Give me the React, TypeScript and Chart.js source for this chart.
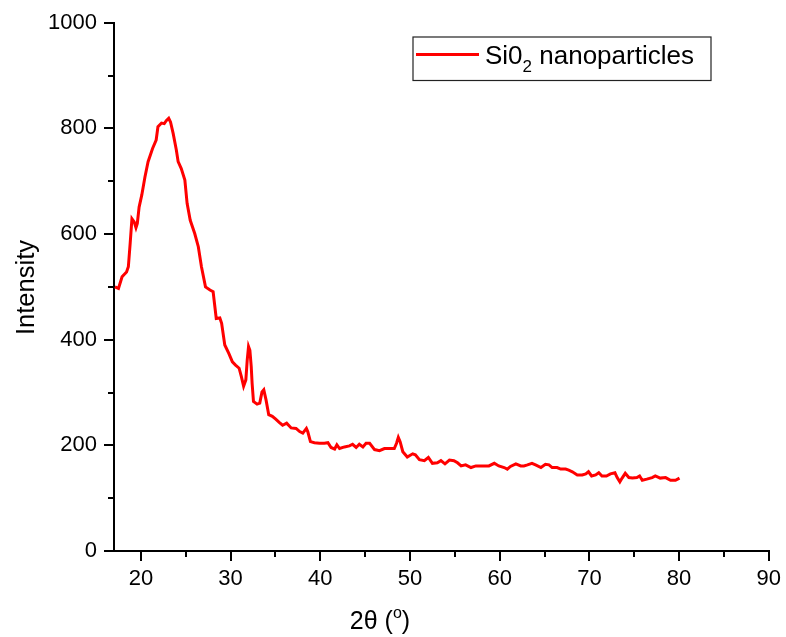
import { useEffect, useRef } from "react";
import { Chart, registerables } from "chart.js";

Chart.register(...registerables);

// XRD pattern of the SiO2 nanoparticle sample
const twoTheta = [
  17.1, 17.5, 17.9, 18.4, 18.6, 18.8, 19.0, 19.25, 19.45, 19.6, 19.8, 20.1, 20.45, 20.8, 21.3, 21.7,
  21.9, 22.3, 22.6, 22.85, 23.1, 23.3, 23.6, 23.95, 24.15, 24.5, 24.9, 25.15, 25.5, 26.0, 26.4, 26.75,
  27.2, 27.7, 28.05, 28.2, 28.4, 28.8, 29.0, 29.35, 29.8, 30.2, 30.55, 30.95, 31.2, 31.45, 31.7, 31.85,
  32.0, 32.15, 32.3, 32.4, 32.55, 32.95, 33.25, 33.5, 33.7, 33.95, 34.25, 34.65, 35.0, 35.45, 35.8, 36.25,
  36.75, 37.3, 37.7, 38.05, 38.45, 38.6, 38.9, 39.35, 39.9, 40.45, 40.85, 41.2, 41.6, 41.85, 42.15, 42.7,
  43.25, 43.6, 44.0, 44.35, 44.75, 45.1, 45.5, 46.05, 46.6, 47.15, 47.7, 48.25, 48.5, 48.7, 48.9, 49.2,
  49.7, 50.3, 50.6, 51.05, 51.6, 52.05, 52.5, 53.05, 53.45, 53.9, 54.4, 54.9, 55.3, 55.7, 56.2, 56.8,
  57.35, 58.1, 58.8, 59.4, 59.9, 60.5, 60.85, 61.2, 61.8, 62.35, 62.7, 63.1, 63.6, 64.0, 64.6, 65.1,
  65.5, 65.85, 66.4, 66.8, 67.35, 67.7, 68.1, 68.65, 69.2, 69.6, 69.9, 70.25, 70.7, 71.05, 71.4, 71.9,
  72.35, 72.85, 73.1, 73.4, 73.65, 74.0, 74.4, 74.8, 75.3, 75.6, 75.9, 76.4, 77.0, 77.35, 77.9, 78.5,
  79.05, 79.6, 80.05,
];

const intensity = [
  500, 497, 519, 528, 538, 582, 629, 623, 612, 620, 651, 674, 708, 737, 762, 778,
  803, 810, 809, 815, 819, 812, 790, 759, 737, 724, 702, 658, 626, 601, 576, 538,
  500, 494, 491, 469, 440, 441, 431, 390, 374, 358, 352, 346, 330, 312, 324, 361,
  387, 380, 349, 317, 283, 278, 280, 301, 305, 286, 258, 255, 250, 243, 238, 242,
  233, 232, 226, 223, 232, 226, 207, 205, 204, 204, 205, 196, 193, 201, 194, 197,
  199, 202, 196, 202, 197, 204, 204, 192, 190, 194, 194, 194, 204, 215, 207, 188,
  178, 184, 182, 173, 171, 177, 166, 167, 171, 165, 172, 171, 167, 161, 163, 158,
  161, 161, 161, 166, 161, 158, 155, 160, 165, 161, 161, 163, 166, 163, 158, 164,
  163, 158, 158, 155, 155, 153, 150, 144, 144, 146, 150, 142, 144, 148, 142, 142,
  146, 148, 139, 131, 138, 147, 139, 138, 139, 142, 134, 136, 139, 142, 138, 139,
  134, 134, 138,
];

const xTicks = [20, 30, 40, 50, 60, 70, 80, 90];
const xMinorTicks = [25, 35, 45, 55, 65, 75, 85];
const yTicks = [0, 200, 400, 600, 800, 1000];
const yMinorTicks = [100, 300, 500, 700, 900];

const seriesName = "Si0";
const seriesSub = "2";
const seriesRest = " nanoparticles";
const yTitle = "Intensity";
const xTitleMain = "2θ (";
const xTitleSup = "o";
const xTitleEnd = ")";

const FONT = '"Liberation Sans", Arial, Helvetica, sans-serif';
const RED = "#ff0000";

// Short ticks halfway between the labelled ones
const minorTicksPlugin = {
  id: "minorTicks",
  afterDraw(chart: any) {
    const { ctx, scales, chartArea } = chart;
    ctx.save();
    ctx.strokeStyle = "#000";
    ctx.lineWidth = 2;
    ctx.beginPath();
    xMinorTicks.forEach((v) => {
      const px = Math.round(scales.x.getPixelForValue(v));
      ctx.moveTo(px, chartArea.bottom);
      ctx.lineTo(px, chartArea.bottom + 6);
    });
    yMinorTicks.forEach((v) => {
      const py = Math.round(scales.y.getPixelForValue(v));
      ctx.moveTo(chartArea.left - 6, py);
      ctx.lineTo(chartArea.left, py);
    });
    ctx.stroke();
    ctx.restore();
  },
};

// Axis titles (x title carries a superscript degree mark)
const axisTitlesPlugin = {
  id: "axisTitles",
  afterDraw(chart: any) {
    const { ctx } = chart;
    ctx.save();
    ctx.fillStyle = "#000";
    ctx.textBaseline = "alphabetic";

    // y title, rotated
    ctx.font = `25.5px ${FONT}`;
    ctx.translate(33.5, 287.5);
    ctx.rotate(-Math.PI / 2);
    ctx.textAlign = "center";
    ctx.fillText(yTitle, 0, 0);
    ctx.setTransform(1, 0, 0, 1, 0, 0);

    // x title
    ctx.textAlign = "left";
    const mainFont = `25px ${FONT}`;
    const supFont = `16px ${FONT}`;
    ctx.font = mainFont;
    const w1 = ctx.measureText(xTitleMain).width;
    const w3 = ctx.measureText(xTitleEnd).width;
    ctx.font = supFont;
    const w2 = ctx.measureText(xTitleSup).width;
    const total = w1 + w2 + w3;
    let x = 380 - total / 2;
    const base = 628.5;
    ctx.font = mainFont;
    ctx.fillText(xTitleMain, x, base);
    x += w1;
    ctx.font = supFont;
    ctx.fillText(xTitleSup, x, base - 10.5);
    x += w2;
    ctx.font = mainFont;
    ctx.fillText(xTitleEnd, x, base);
    ctx.restore();
  },
};

// Boxed legend inside the plot area
const legendBoxPlugin = {
  id: "legendBox",
  afterDraw(chart: any) {
    const { ctx } = chart;
    ctx.save();
    ctx.strokeStyle = "#222";
    ctx.lineWidth = 1.2;
    ctx.strokeRect(413, 37, 298, 43.5);

    ctx.strokeStyle = RED;
    ctx.lineWidth = 3;
    ctx.beginPath();
    ctx.moveTo(416, 54.5);
    ctx.lineTo(479, 54.5);
    ctx.stroke();

    ctx.fillStyle = "#000";
    ctx.textAlign = "left";
    ctx.textBaseline = "alphabetic";
    let x = 485;
    const base = 63.5;
    ctx.font = `26px ${FONT}`;
    ctx.fillText(seriesName, x, base);
    x += ctx.measureText(seriesName).width;
    ctx.font = `17px ${FONT}`;
    ctx.fillText(seriesSub, x, base + 8);
    x += ctx.measureText(seriesSub).width;
    ctx.font = `26px ${FONT}`;
    ctx.fillText(seriesRest, x, base);
    ctx.restore();
  },
};

export default function App() {
  const canvasRef = useRef<HTMLCanvasElement | null>(null);

  useEffect(() => {
    const canvas = canvasRef.current;
    if (!canvas) return;

    const points = twoTheta.map((t, i) => ({ x: t, y: intensity[i] }));

    const chart = new Chart(canvas, {
      type: "line",
      data: {
        datasets: [
          {
            label: seriesName + seriesSub + seriesRest,
            data: points,
            borderColor: RED,
            backgroundColor: RED,
            borderWidth: 3,
            pointRadius: 0,
            tension: 0,
            fill: false,
          },
        ],
      },
      options: {
        responsive: false,
        animation: false,
        devicePixelRatio: 1,
        layout: { padding: { left: 0, right: 16.7, top: 22.7, bottom: 0 } },
        plugins: {
          legend: { display: false },
          tooltip: { enabled: false },
          title: { display: false },
        },
        scales: {
          x: {
            type: "linear",
            min: 17,
            max: 90,
            afterBuildTicks: (scale: any) => {
              scale.ticks = xTicks.map((v) => ({ value: v }));
            },
            afterFit: (scale: any) => {
              scale.height = 86;
            },
            grid: {
              drawOnChartArea: false,
              drawTicks: true,
              tickLength: 10,
              color: "#000",
              lineWidth: 2,
            },
            border: { display: true, color: "#000", width: 2 },
            ticks: {
              color: "#000",
              padding: 5,
              maxRotation: 0,
              autoSkip: false,
              font: { family: FONT, size: 22 },
              callback: (v: any) => String(v),
            },
          },
          y: {
            type: "linear",
            min: 0,
            max: 1000,
            afterBuildTicks: (scale: any) => {
              scale.ticks = yTicks.map((v) => ({ value: v }));
            },
            afterFit: (scale: any) => {
              scale.width = 114;
            },
            grid: {
              drawOnChartArea: false,
              drawTicks: true,
              tickLength: 10,
              color: "#000",
              lineWidth: 2,
            },
            border: { display: true, color: "#000", width: 2 },
            ticks: {
              color: "#000",
              padding: 7,
              autoSkip: false,
              font: { family: FONT, size: 22 },
              callback: (v: any) => String(v),
            },
          },
        },
      },
      plugins: [minorTicksPlugin, axisTitlesPlugin, legendBoxPlugin],
    });

    return () => chart.destroy();
  }, []);

  return (
    <div
      style={{
        position: "fixed",
        left: 0,
        top: 0,
        width: 786,
        height: 637,
        background: "#fff",
      }}
    >
      <canvas ref={canvasRef} width={786} height={637} style={{ display: "block" }} />
    </div>
  );
}
